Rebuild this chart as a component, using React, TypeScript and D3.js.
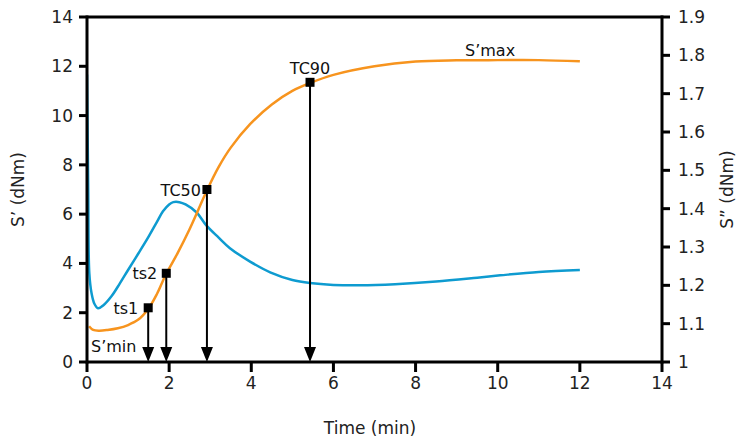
import React from "react";
import * as d3 from "d3";

const sPrimeTime = [0.05, 0.15, 0.3, 0.5, 0.75, 1.0, 1.25, 1.49, 1.7, 1.92, 2.2, 2.5, 2.93, 3.2, 3.5, 3.97, 4.5, 5.0, 5.43, 6, 7, 8, 9, 10, 11, 12];
const sPrimeValues = [1.45, 1.3, 1.27, 1.3, 1.37, 1.5, 1.72, 2.15, 2.75, 3.55, 4.4, 5.4, 7.0, 7.9, 8.7, 9.65, 10.45, 11.0, 11.32, 11.65, 12.0, 12.19, 12.24, 12.25, 12.25, 12.2];

const sDoubleTime = [0, 0.03, 0.056, 0.11, 0.18, 0.27, 0.4, 0.6, 0.8, 1.0, 1.25, 1.5, 1.7, 1.85, 2.0, 2.1, 2.25, 2.4, 2.67, 2.9, 3.2, 3.48, 3.97, 4.46, 5, 5.43, 6, 6.65, 7.5, 8.5, 9.5, 10.06, 11, 12];
const sDoubleValues = [1.75, 1.45, 1.232, 1.18, 1.152, 1.14, 1.148, 1.172, 1.205, 1.24, 1.283, 1.327, 1.365, 1.393, 1.411, 1.417, 1.417, 1.411, 1.39, 1.357, 1.325, 1.297, 1.262, 1.234, 1.214, 1.206, 1.201, 1.2, 1.203, 1.21, 1.22, 1.226, 1.235, 1.24];

const markerLabels = ["ts1", "ts2", "TC50", "TC90"];
const markerTimes = [1.49, 1.93, 2.92, 5.43];
const markerValues = [2.2, 3.6, 7.0, 11.35];

const xTicks = [0, 2, 4, 6, 8, 10, 12, 14];
const yLeftTicks = [0, 2, 4, 6, 8, 10, 12, 14];
const yRightTicks = [1, 1.1, 1.2, 1.3, 1.4, 1.5, 1.6, 1.7, 1.8, 1.9];

const W = 739, H = 441;
const L = 87, R = 662, T = 17, B = 362;
const ORANGE = "#F7941E";
const BLUE = "#0E9BD0";
const FONT = "DejaVu Sans, sans-serif";

export default function App() {
  const x = d3.scaleLinear().domain([0, 14]).range([L, R]);
  const y = d3.scaleLinear().domain([0, 14]).range([B, T]);
  const y2 = d3.scaleLinear().domain([1, 1.9]).range([B, T]);

  const orangeLine = d3.line<number>()
    .x((_, i) => x(sPrimeTime[i]))
    .y((d) => y(d))
    .curve(d3.curveCatmullRom.alpha(0.5))(sPrimeValues) as string;
  const blueLine = d3.line<number>()
    .x((_, i) => x(sDoubleTime[i]))
    .y((d) => y2(d))
    .curve(d3.curveCatmullRom.alpha(0.5))(sDoubleValues) as string;

  const labelOffset: Record<string, number> = { ts1: 10, ts2: 9, TC50: 6 };

  return (
    <svg width={W} height={H} style={{ position: "absolute", left: 0, top: 0 }} fontFamily={FONT}>
      <rect width={W} height={H} fill="white" />
      <defs>
        <clipPath id="plot">
          <rect x={L} y={T} width={R - L} height={B - T} />
        </clipPath>
      </defs>
      <g clipPath="url(#plot)">
        <path d={blueLine} fill="none" stroke={BLUE} strokeWidth={2.5} />
        <path d={orangeLine} fill="none" stroke={ORANGE} strokeWidth={2.5} />
      </g>
      <line x1={L} x2={R} y1={T} y2={T} stroke="black" strokeWidth={3} />
      <line x1={L} x2={R} y1={B} y2={B} stroke="black" strokeWidth={3} />
      <line x1={L} x2={L} y1={T - 1.5} y2={B + 1.5} stroke="black" strokeWidth={3} />
      <line x1={R} x2={R} y1={T - 1.5} y2={B + 1.5} stroke="black" strokeWidth={3} />
      {xTicks.map((t) => (
        <g key={"x" + t}>
          <line x1={x(t)} x2={x(t)} y1={B} y2={B + 10} stroke="black" strokeWidth={3} />
          <text x={x(t)} y={389} textAnchor="middle" fontSize={17} fill="#222">{t}</text>
        </g>
      ))}
      {yLeftTicks.map((t) => (
        <g key={"yl" + t}>
          <line x1={L - 8} x2={L} y1={y(t)} y2={y(t)} stroke="black" strokeWidth={3} />
          <text x={73} y={y(t) + 6} textAnchor="end" fontSize={17} fill="#222">{t}</text>
        </g>
      ))}
      {yRightTicks.map((t) => (
        <g key={"yr" + t}>
          <line x1={R} x2={R + 8} y1={y2(t)} y2={y2(t)} stroke="black" strokeWidth={3} />
          <text x={678} y={y2(t) + 6} textAnchor="start" fontSize={17} fill="#222">{String(t)}</text>
        </g>
      ))}
      {markerTimes.map((t, i) => {
        const mx = x(t), my = y(markerValues[i]);
        const lab = markerLabels[i];
        return (
          <g key={lab}>
            <line x1={mx} x2={mx} y1={my} y2={B - 12} stroke="black" strokeWidth={2} />
            <path d={`M${mx - 6},${B - 15} L${mx + 6},${B - 15} L${mx},${B} Z`} fill="black" />
            <rect x={mx - 4.5} y={my - 4.5} width={9} height={9} fill="black" />
            {lab === "TC90" ? (
              <text x={mx} y={my - 8} textAnchor="middle" fontSize={16} fill="#111">{lab}</text>
            ) : (
              <text x={mx - labelOffset[lab]} y={my + 6} textAnchor="end" fontSize={16} fill="#111">{lab}</text>
            )}
          </g>
        );
      })}
      <text x={91} y={352} fontSize={16} fill="#111">S’min</text>
      <text x={465} y={56} fontSize={16} fill="#111">S’max</text>
      <text x={370} y={434} textAnchor="middle" fontSize={17} fill="#222">Time (min)</text>
      <text transform={`translate(24,${(T + B) / 2}) rotate(-90)`} textAnchor="middle" fontSize={17} fill="#222">S’ (dNm)</text>
      <text transform={`translate(733,${(T + B) / 2}) rotate(-90)`} textAnchor="middle" fontSize={17} fill="#222">S” (dNm)</text>
    </svg>
  );
}
